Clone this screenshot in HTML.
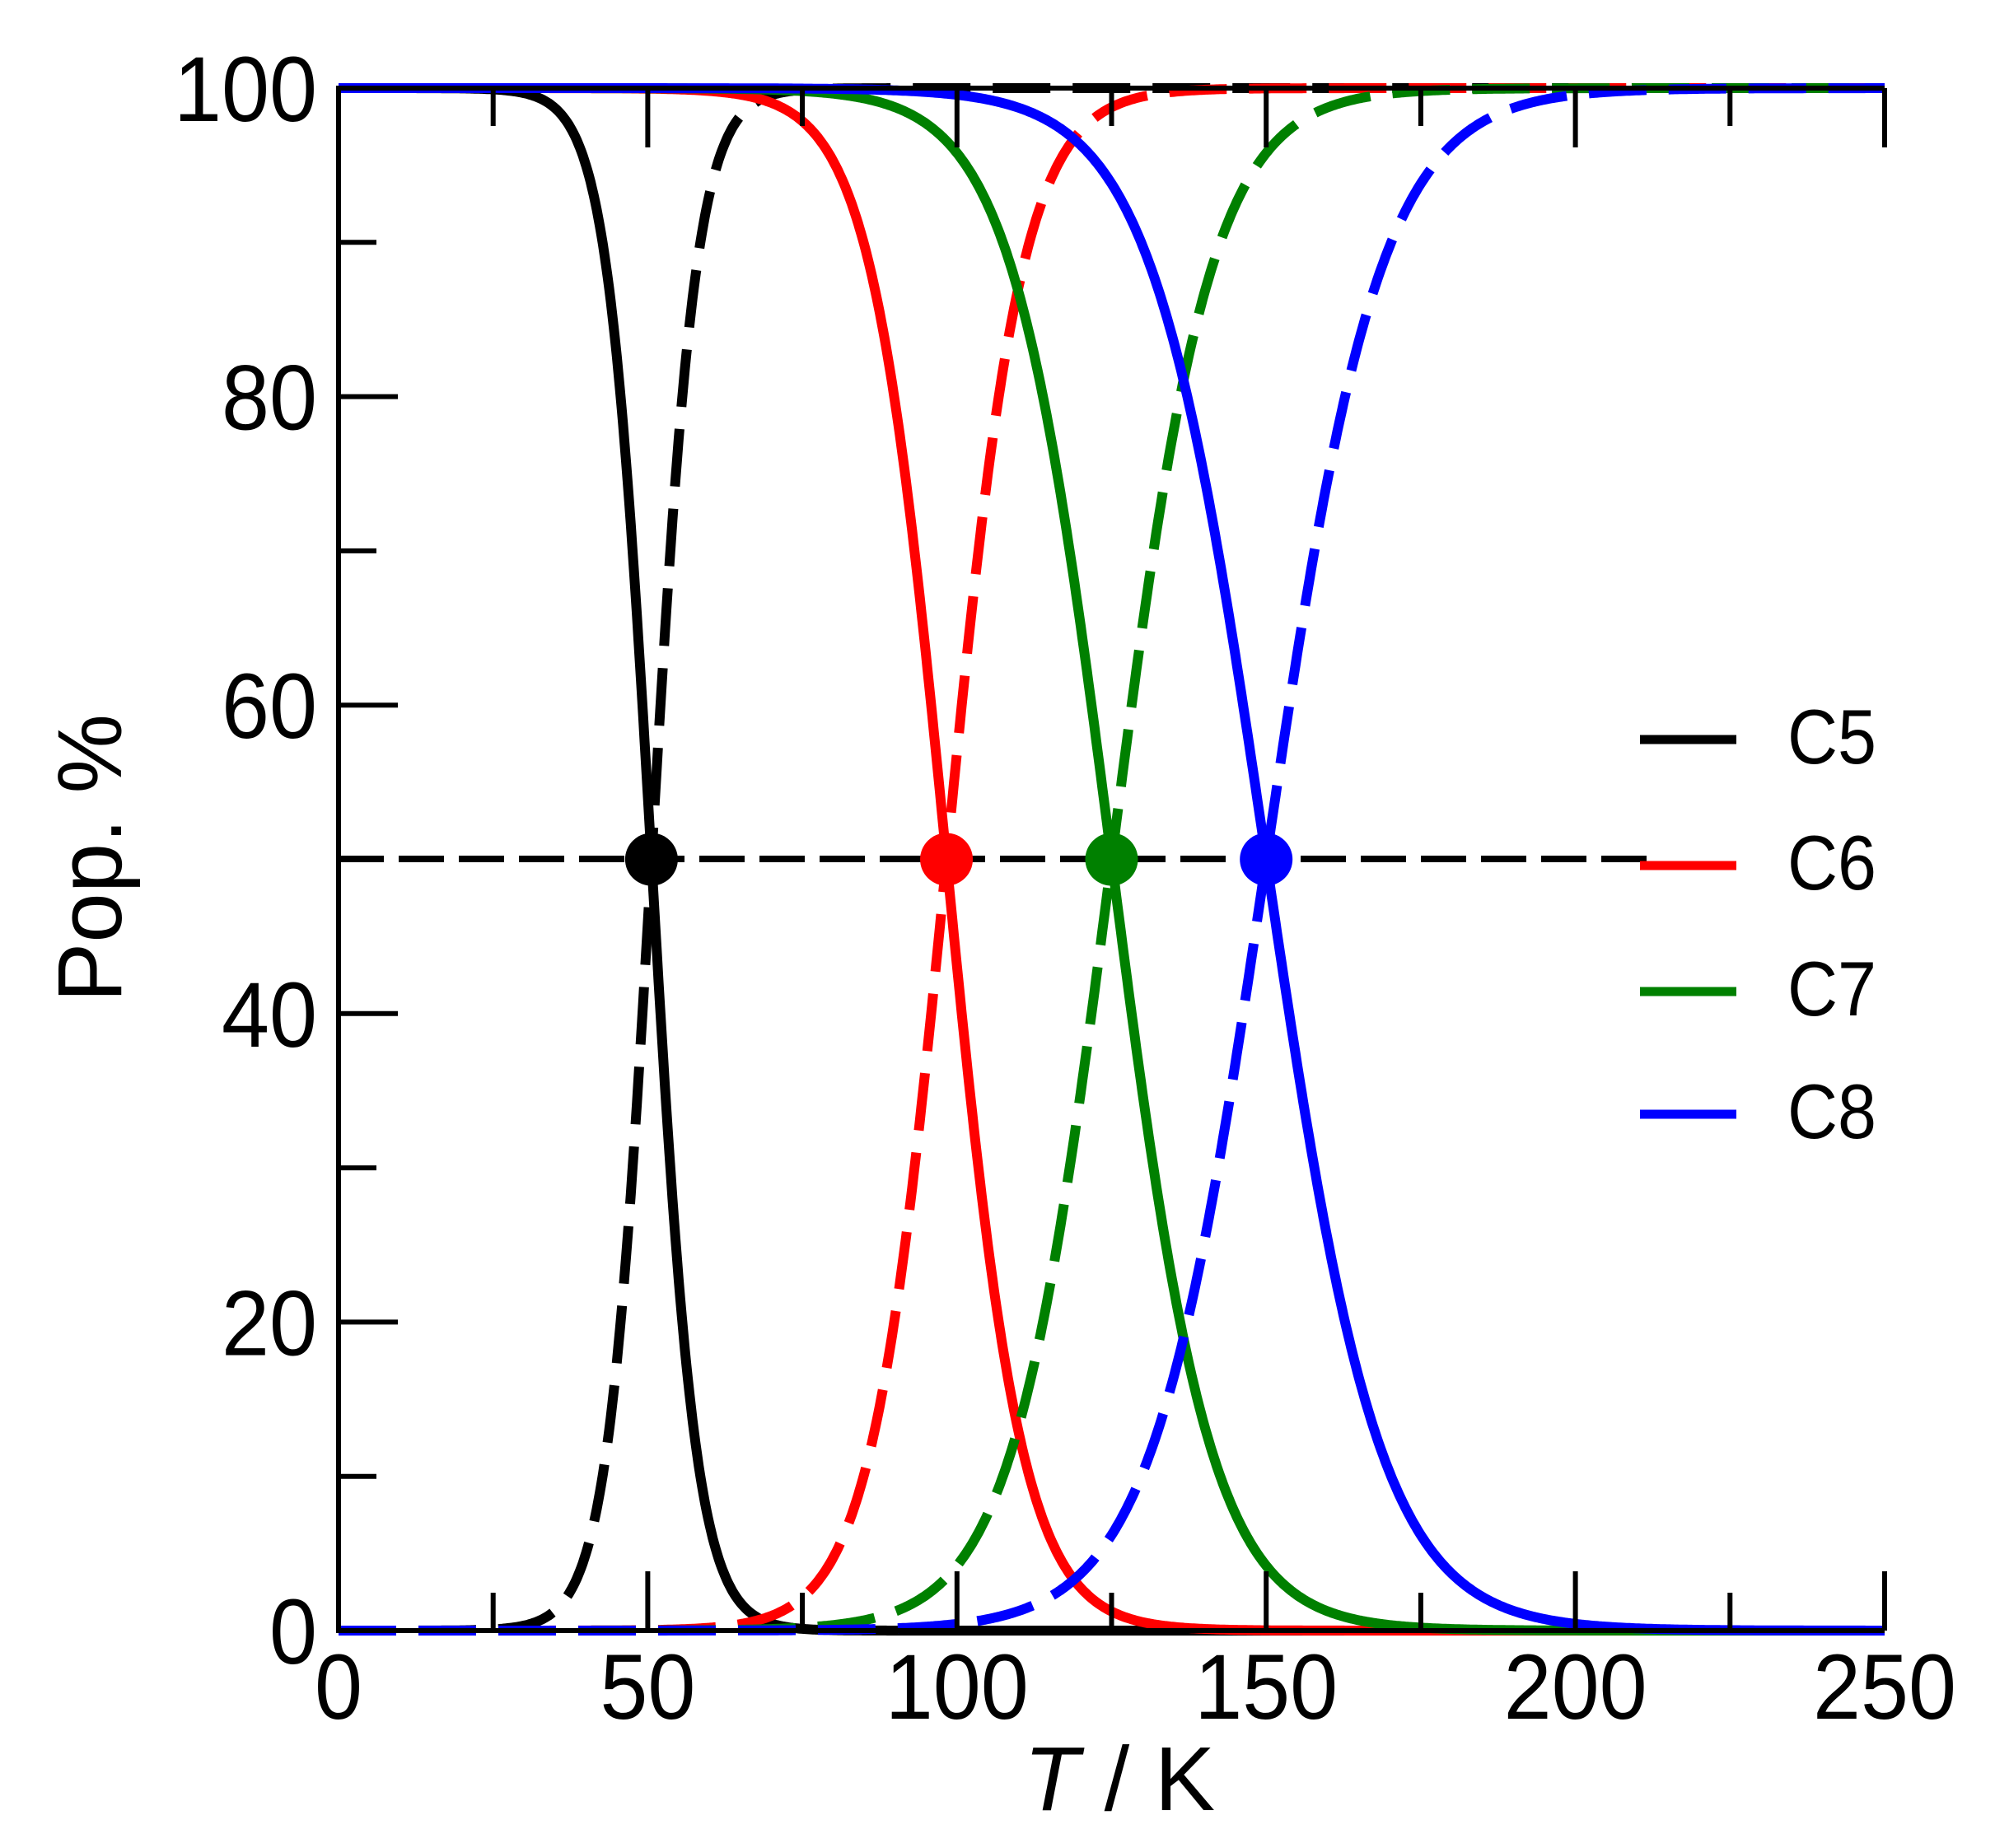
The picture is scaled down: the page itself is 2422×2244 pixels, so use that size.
<!DOCTYPE html>
<html><head><meta charset="utf-8"><style>
html,body{margin:0;padding:0;background:#fff;}
svg{display:block;}
text{font-family:"Liberation Sans",sans-serif;fill:#000;}
</style></head><body>
<svg id="s" width="2422" height="2244" viewBox="0 0 2422 2244" xmlns="http://www.w3.org/2000/svg">
<defs><clipPath id="c"><rect x="405" y="100" width="1890" height="1888"/></clipPath></defs>
<g id="curves" clip-path="url(#c)"></g>
<line x1="411" y1="1043" x2="2000" y2="1043" stroke="#000" stroke-width="8" stroke-dasharray="55 18"/>
<g id="marks"></g>
<g id="axes" stroke="#000" stroke-width="6" fill="none"></g>
<g id="labels" font-size="112"></g>
<text x="1359" y="2198" font-size="110" text-anchor="middle"><tspan font-style="italic">T</tspan> / K</text>
<text transform="translate(147,1042) rotate(-90)" font-size="110" text-anchor="middle" textLength="350" lengthAdjust="spacingAndGlyphs">Pop. %</text>
<g font-size="94">
<line x1="1991" y1="898" x2="2108" y2="898" stroke="#000" stroke-width="11"/><text x="2170" y="927" textLength="108" lengthAdjust="spacingAndGlyphs">C5</text>
<line x1="1991" y1="1051" x2="2108" y2="1051" stroke="#f00" stroke-width="11"/><text x="2170" y="1080" textLength="108" lengthAdjust="spacingAndGlyphs">C6</text>
<line x1="1991" y1="1204" x2="2108" y2="1204" stroke="#008000" stroke-width="11"/><text x="2170" y="1233" textLength="108" lengthAdjust="spacingAndGlyphs">C7</text>
<line x1="1991" y1="1353" x2="2108" y2="1353" stroke="#00f" stroke-width="11"/><text x="2170" y="1382" textLength="108" lengthAdjust="spacingAndGlyphs">C8</text>
</g>
</svg>
<script>
(function(){
var NS="http://www.w3.org/2000/svg";
var X0=411,X1=2288,Y0=1980,Y1=107;
function X(t){return X0+(X1-X0)*t/250;}
function Y(p){return Y0-(Y0-Y1)*p/100;}
function el(tag,attrs,parent){var e=document.createElementNS(NS,tag);for(var k in attrs)e.setAttribute(k,attrs[k]);parent.appendChild(e);return e;}
var series=[["#000",50.6,3.6],["#f00",98.3,6.1],["#008000",125,8.0],["#00f",150,9.2]];
var cg=document.getElementById("curves"),mg=document.getElementById("marks");
series.forEach(function(s){
  var a="",b="";
  for(var t=0;t<=250;t+=0.25){
    var p=100/(1+Math.exp((t-s[1])/s[2]));
    a+=(t?"L":"M")+X(t).toFixed(1)+","+Y(p).toFixed(1);
    b+=(t?"L":"M")+X(t).toFixed(1)+","+Y(100-p).toFixed(1);
  }
  el("path",{d:a,stroke:s[0],"stroke-width":12,fill:"none"},cg);
  el("path",{d:b,stroke:s[0],"stroke-width":12,fill:"none","stroke-dasharray":"70 27"},cg);
  el("circle",{cx:X(s[1]),cy:Y(50),r:32,fill:s[0]},mg);
});
var ag=document.getElementById("axes"),lg=document.getElementById("labels");
el("path",{d:"M"+X1+","+Y1+"H"+X0+"V"+Y0+"H"+X1},ag);
function lab(str,x,y,anchor){var w=58*String(str).length;var e=el("text",{x:x,y:y,"text-anchor":anchor,textLength:w,lengthAdjust:"spacingAndGlyphs"},lg);e.textContent=str;}
for(var t=0;t<=250;t+=25){
  var L=(t%50==0)?72:46,x=X(t);
  el("line",{x1:x,y1:Y0,x2:x,y2:Y0-L},ag);
  el("line",{x1:x,y1:Y1,x2:x,y2:Y1+L},ag);
  if(t%50==0)lab(t,x,2087,"middle");
}
for(var p=0;p<=100;p+=10){
  var L=(p%20==0)?72:46,y=Y(p);
  el("line",{x1:X0,y1:y,x2:X0+L,y2:y},ag);
  if(p%20==0)lab(p,385,y+40,"end");
}
})();
</script>
</body></html>
